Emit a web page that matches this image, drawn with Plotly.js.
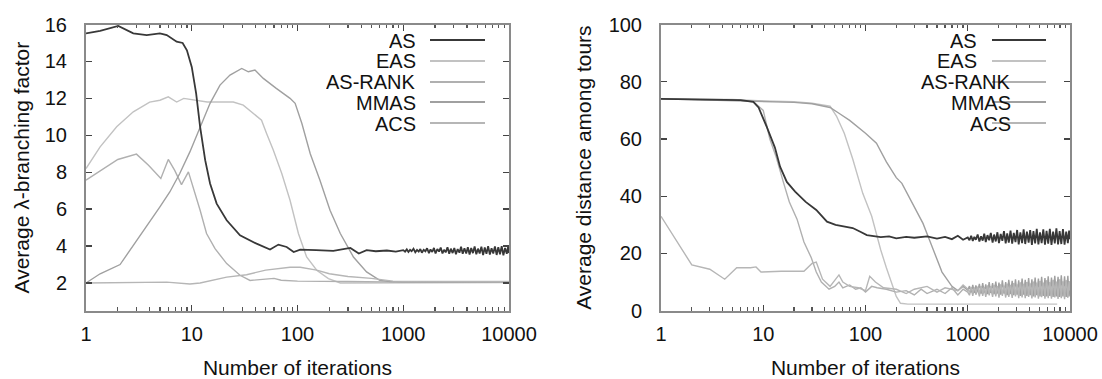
<!DOCTYPE html>
<html>
<head>
<meta charset="utf-8">
<script src="https://cdn.plot.ly/plotly-3.0.1.min.js"></script>
<style>html,body{margin:0;padding:0;background:#fff;}#chart{width:1102px;height:379px;}</style>
</head>
<body>
<div id="chart"></div>
<script>
// ---------- series names / ticks ----------
const seriesNames = ["AS", "EAS", "AS-RANK", "MMAS", "ACS"];
const xTickVals = [1, 10, 100, 1000, 10000];
const xTickText = ["1", "10", "100", "1000", "10000"];

// iterations at which the noisy tails were read (1000 .. 10000)
const tailIter = [1000,1040,1080,1120,1160,1200,1250,1300,1350,1400,1450,1500,1560,1620,1680,1750,
  1810,1880,1950,2020,2100,2180,2260,2350,2430,2520,2620,2720,2820,2930,3040,3150,
  3270,3400,3520,3650,3790,3940,4080,4240,4390,4560,4730,4910,5090,5280,5480,5690,
  5900,6120,6350,6590,6840,7100,7360,7640,7920,8220,8530,8850,9180,9530,9800,10000];

// ---------- left panel: average lambda-branching factor ----------
const bfAS_x = [1,1.36,2.02,2.8,3.75,5,5.8,7.2,8.2,9,10,11,12,13.4,14.9,17.2,21.4,28.6,41,55,66,79,92,106,150,218,316,380,450,550,700,850];
const bfAS_y = [15.52,15.66,15.92,15.52,15.43,15.52,15.43,15.07,15.0,14.6,13.7,12.27,10.46,8.65,7.39,6.3,5.4,4.58,4.13,3.81,4.08,3.95,3.68,3.81,3.78,3.74,3.9,3.6,3.78,3.72,3.76,3.7];
const bfAS_tail = [3.78,3.7,3.82,3.68,3.8,3.72,3.86,3.66, 3.79,3.7,3.84,3.64,3.8,3.72,3.88,3.62,
  3.82,3.68,3.9,3.6,3.84,3.7,3.92,3.6, 3.8,3.66,3.94,3.58,3.86,3.62,3.9,3.56,
  3.84,3.64,3.96,3.58,3.88,3.6,3.94,3.54, 3.9,3.62,3.98,3.56,3.86,3.6,3.96,3.52,
  3.92,3.58,4.0,3.54,3.88,3.6,3.98,3.52, 3.94,3.56,4.0,3.5,3.9,3.58,3.96,3.62];

const bfEAS_x = [1,1.36,1.95,2.8,4,5,6,7.2,8.4,10.5,14,19,24.7,30.7,38,45.7,51,59,71,85,102,122,152,196,254,400,1000,3000,10000];
const bfEAS_y = [8.2,9.37,10.46,11.27,11.8,11.9,12.08,11.8,12.0,11.9,11.8,11.8,11.8,11.63,11.18,10.82,10.1,9.2,7.93,6.48,4.68,3.41,2.69,2.24,2.0,2.0,2.02,2.0,2.02];

const bfRANK_x = [1,2.0,3.0,3.9,5.1,6.0,6.9,8.0,9.3,10.3,12,13.8,16.6,21.4,28.6,35.6,50,60,70,100,300,1000,10000];
const bfRANK_y = [7.57,8.69,8.98,8.38,7.66,8.69,8.1,7.33,8.02,7.2,5.94,4.68,3.86,3.05,2.42,2.14,2.2,2.25,2.15,2.1,2.08,2.05,2.05];

const bfMMAS_x = [1,1.36,2.1,2.6,3.24,4,5,6.2,7.7,9.6,12,14.9,18.5,23,29.7,34.3,39.6,47.5,63,85,95,110,132,163,203,254,338,450,600,750,1000,10000];
const bfMMAS_y = [2.0,2.5,3.0,3.77,4.5,5.3,6.12,6.93,7.93,9.1,10.46,11.73,12.72,13.26,13.62,13.44,13.53,13.08,12.54,12.0,11.73,10.64,9.0,7.57,5.94,4.68,3.41,2.6,2.14,2.08,2.06,2.06];

const bfACS_x = [1,2.8,5.8,9.6,12,21.4,33,50,85,106,152,200,300,500,800,10000];
const bfACS_y = [2.0,2.05,2.05,1.95,2.0,2.32,2.45,2.7,2.85,2.85,2.7,2.5,2.35,2.25,2.1,2.08];

// ---------- right panel: average distance among tours ----------
const dAS_x = [1,2,4,6,8,9,10.8,13,14.6,17,20.5,26,33,42,51,62,75,90,103,141,170,200,250,300,400,500,600,700,800,900];
const dAS_y = [74,73.8,73.5,73.6,73,71,64.3,57,50.3,45,41.6,38,35.2,31.1,30,29.5,28.9,27.5,26.4,25.7,26,25.3,25.8,25.5,26,25.2,25.8,25,26.2,24.8];
const dAS_tail = [25.6,24.6,26.2,24.4,25.8,24.8,26.6,24.2, 26,24.5,26.9,24,26.4,24.6,27.2,23.8,
  26.6,24.2,27.4,23.6,26.8,24.4,27.8,23.5, 27,23.8,28,23.4,27.2,24,28.2,23.2,
  27.4,23.6,28.4,23.3,27.6,23.8,28.2,23, 27.8,23.5,28.6,23.2,27.4,23.6,28.4,23.1,
  27.9,23.4,28.6,23,27.6,23.5,28.8,23.2, 27.8,23.3,28.5,23.1,27.6,23.6,28,25];

const dEAS_x = [1,5,10,20,30,45,52,62,75,94,115,141,160,181,200,220,260,1000,3000,7500];
const dEAS_y = [74,73.8,73.3,73,72.5,71.5,68,62,53,41,33,21.2,15,9.6,5,2.6,2.3,2.3,2.4,2.3];

const dRANK_x = [1,3,6,8,10,11.6,13.3,15.7,18,21.4,25,29.5,33,37,44,50,55,60,70,80,90,100,115,130,160,200,250,300,350,400,500,600,700,800,900];
const dRANK_y = [74,73.6,73.5,73,70,60,54,45,38,32,24,18.5,13.5,10,7.5,8.5,10,8,9,7.5,8,6.5,8.5,8,7.5,6.5,7,5.5,7.5,6,7.5,6,8,5.5,7.5];
const dRANK_tail = [6.5,5.4,7.8,5.2,8,5.6,7.4,5, 8.4,5.2,7.6,4.8,8.6,5.4,8,4.8,
  8.8,5,8.2,4.6,9,5.2,8.4,4.6, 9.4,4.8,8.6,4.5,9.6,5,8.8,4.4,
  9.8,4.6,9,4.4,10,4.8,9.2,4.3, 10.2,4.6,9.4,4.2,10.4,4.7,9.6,4.2,
  10.6,4.4,9.8,4.2,10.8,4.6,10,4.1, 11,4.4,10.2,4,10.6,4.5,10.4,7];

const dMMAS_x = [1,10,20,30,45,55,70,100,128,160,200,227,272,365,430,500,560,635,700,800,900];
const dMMAS_y = [74,73.2,72.8,72.3,71,69,66.5,62,58.5,52,46.5,44.5,39,30.5,24,17.7,13.5,10.7,8.5,7,8.5];
const dMMAS_tail = [7.2,8.6,6.4,9,6.2,8.8,6.8,9.4, 6,9.6,6.4,9.2,5.8,10,6.2,9.6,
  5.8,10.2,6,9.8,5.6,10.6,6,10, 5.4,10.8,5.8,10.4,5.4,11,5.6,10.6,
  5.2,11.2,5.6,10.8,5.2,11.4,5.4,11, 5,11.6,5.4,11.2,5,11.8,5.2,11.4,
  5,12,5.2,11.6,4.8,12.2,5,11.8, 4.8,12.4,5,12,4.8,12.2,5,9];

const dACS_x = [1,2,3,4.2,5.5,7.5,8.5,9.5,15,25,30,33,38,45,55,60,70,85,100,110,125,150,200,250,300,400,500,600,800,900];
const dACS_y = [33,16,14.5,11,15,15,15.3,13.5,13.8,13.8,16.5,17,11,8.5,12.5,10,8.5,8,7,12,10,8,7.5,6,7.5,8.5,6.5,8,7,9];
const dACS_tail = [7.6,6.4,8.2,6.2,8,6.6,8.4,6, 8.6,6.2,8.2,5.8,8.8,6,8.6,5.8,
  9,6,8.6,5.6,9.2,5.8,8.8,5.6, 9.4,5.8,9,5.4,9.6,5.6,9.2,5.4,
  9.8,5.6,9.4,5.4,10,5.6,9.6,5.2, 10,5.4,9.8,5.2,10.2,5.4,9.8,5.2,
  10.4,5.2,10,5,10.4,5.4,10.2,5, 10.6,5.2,10.2,5,10.4,5.2,10,7];

// ---------- styles ----------
const lineColors = ["#383838", "#c2c2c2", "#b0b0b0", "#a0a0a0", "#b6b6b6"];
const lineWidths = [1.8, 1.4, 1.4, 1.4, 1.4];

const leftSeries = [
  [bfAS_x.concat(tailIter), bfAS_y.concat(bfAS_tail)],
  [bfEAS_x, bfEAS_y], [bfRANK_x, bfRANK_y], [bfMMAS_x, bfMMAS_y], [bfACS_x, bfACS_y]];
const rightSeries = [
  [dAS_x.concat(tailIter), dAS_y.concat(dAS_tail)],
  [dEAS_x, dEAS_y],
  [dRANK_x.concat(tailIter), dRANK_y.concat(dRANK_tail)],
  [dMMAS_x.concat(tailIter), dMMAS_y.concat(dMMAS_tail)],
  [dACS_x.concat(tailIter), dACS_y.concat(dACS_tail)]];

const traces = [];
const order = [1,2,3,4,0]; // AS drawn last, on top
order.forEach(i => {
  traces.push({x: leftSeries[i][0], y: leftSeries[i][1], type: "scatter", mode: "lines",
    name: seriesNames[i], xaxis: "x", yaxis: "y", showlegend: false,
    line: {color: lineColors[i], width: lineWidths[i]}});
});
order.forEach(i => {
  traces.push({x: rightSeries[i][0], y: rightSeries[i][1], type: "scatter", mode: "lines",
    name: seriesNames[i], xaxis: "x2", yaxis: "y2", showlegend: false,
    line: {color: lineColors[i], width: lineWidths[i]}});
});

const FONT = "Liberation Sans, Arial, sans-serif";

function xAxis(domain, anchor) {
  return {type: "log", range: [0, 4], domain: domain, anchor: anchor,
    tickmode: "linear", tick0: 0, dtick: 1, tickformat: "d",
    ticks: "inside", ticklen: 6, tickwidth: 1.4, tickcolor: "#444",
    minor: {ticks: "inside", dtick: "D1", ticklen: 3.5, tickwidth: 1.2, tickcolor: "#555", showgrid: false},
    showline: true, mirror: "ticks", linecolor: "#8a8a8a", linewidth: 2,
    showgrid: false, zeroline: false, ticklabelstandoff: 4,
    tickfont: {family: FONT, size: 20, color: "#111"},
    title: {text: "Number of iterations", font: {family: FONT, size: 21, color: "#111"}, standoff: 17}};
}
function yAxis(domain, anchor, range, dtick, title, standoff) {
  return {range: range, domain: domain, anchor: anchor, tick0: 0, dtick: dtick,
    ticks: "inside", ticklen: 6, tickwidth: 1.4, tickcolor: "#444",
    showline: true, mirror: "ticks", linecolor: "#8a8a8a", linewidth: 2,
    showgrid: false, zeroline: false, ticklabelstandoff: 13,
    tickfont: {family: FONT, size: 20, color: "#111"},
    title: {text: title, font: {family: FONT, size: 21, color: "#111"}, standoff: standoff}};
}

const yDom = [1 - 310.7/379, 1 - 24.5/379];
const layout = {
  width: 1102, height: 379, margin: {l: 0, r: 0, t: 0, b: 0},
  paper_bgcolor: "#fff", plot_bgcolor: "#fff", showlegend: false,
  xaxis: xAxis([86/1102, 509/1102], "y"),
  yaxis: yAxis(yDom, "x", [0.5, 16], 2, "Average λ-branching factor", 9),
  xaxis2: xAxis([661/1102, 1070/1102], "y2"),
  yaxis2: yAxis(yDom, "x2", [0, 100], 20, "Average distance among tours", 11),
  annotations: [], shapes: []
};

// gnuplot-style keys: text right-aligned, sample line to the right
const rowY = [40, 61, 82, 102, 123];
const keyLeft = {textRight: [417,417,417,417,417], x0: 430, x1: 485};
const keyRight = {textRight: [978,978,1012,1012,1012], x0: 992, x1: 1046};
[keyLeft, keyRight].forEach(k => {
  seriesNames.forEach((nm, i) => {
    const yp = 1 - rowY[i]/379;
    layout.shapes.push({type: "line", xref: "paper", yref: "paper", x0: k.x0/1102, x1: k.x1/1102, y0: yp, y1: yp,
      line: {color: lineColors[i], width: lineWidths[i] + 0.4}});
    layout.annotations.push({xref: "paper", yref: "paper", x: k.textRight[i]/1102, y: yp, xanchor: "right", yanchor: "middle",
      height: 19, valign: "middle", borderpad: 0,
      text: nm, showarrow: false, font: {family: FONT, size: 20, color: "#111"}});
  });
});

Plotly.newPlot("chart", traces, layout, {displayModeBar: false, staticPlot: true});
</script>
</body>
</html>
